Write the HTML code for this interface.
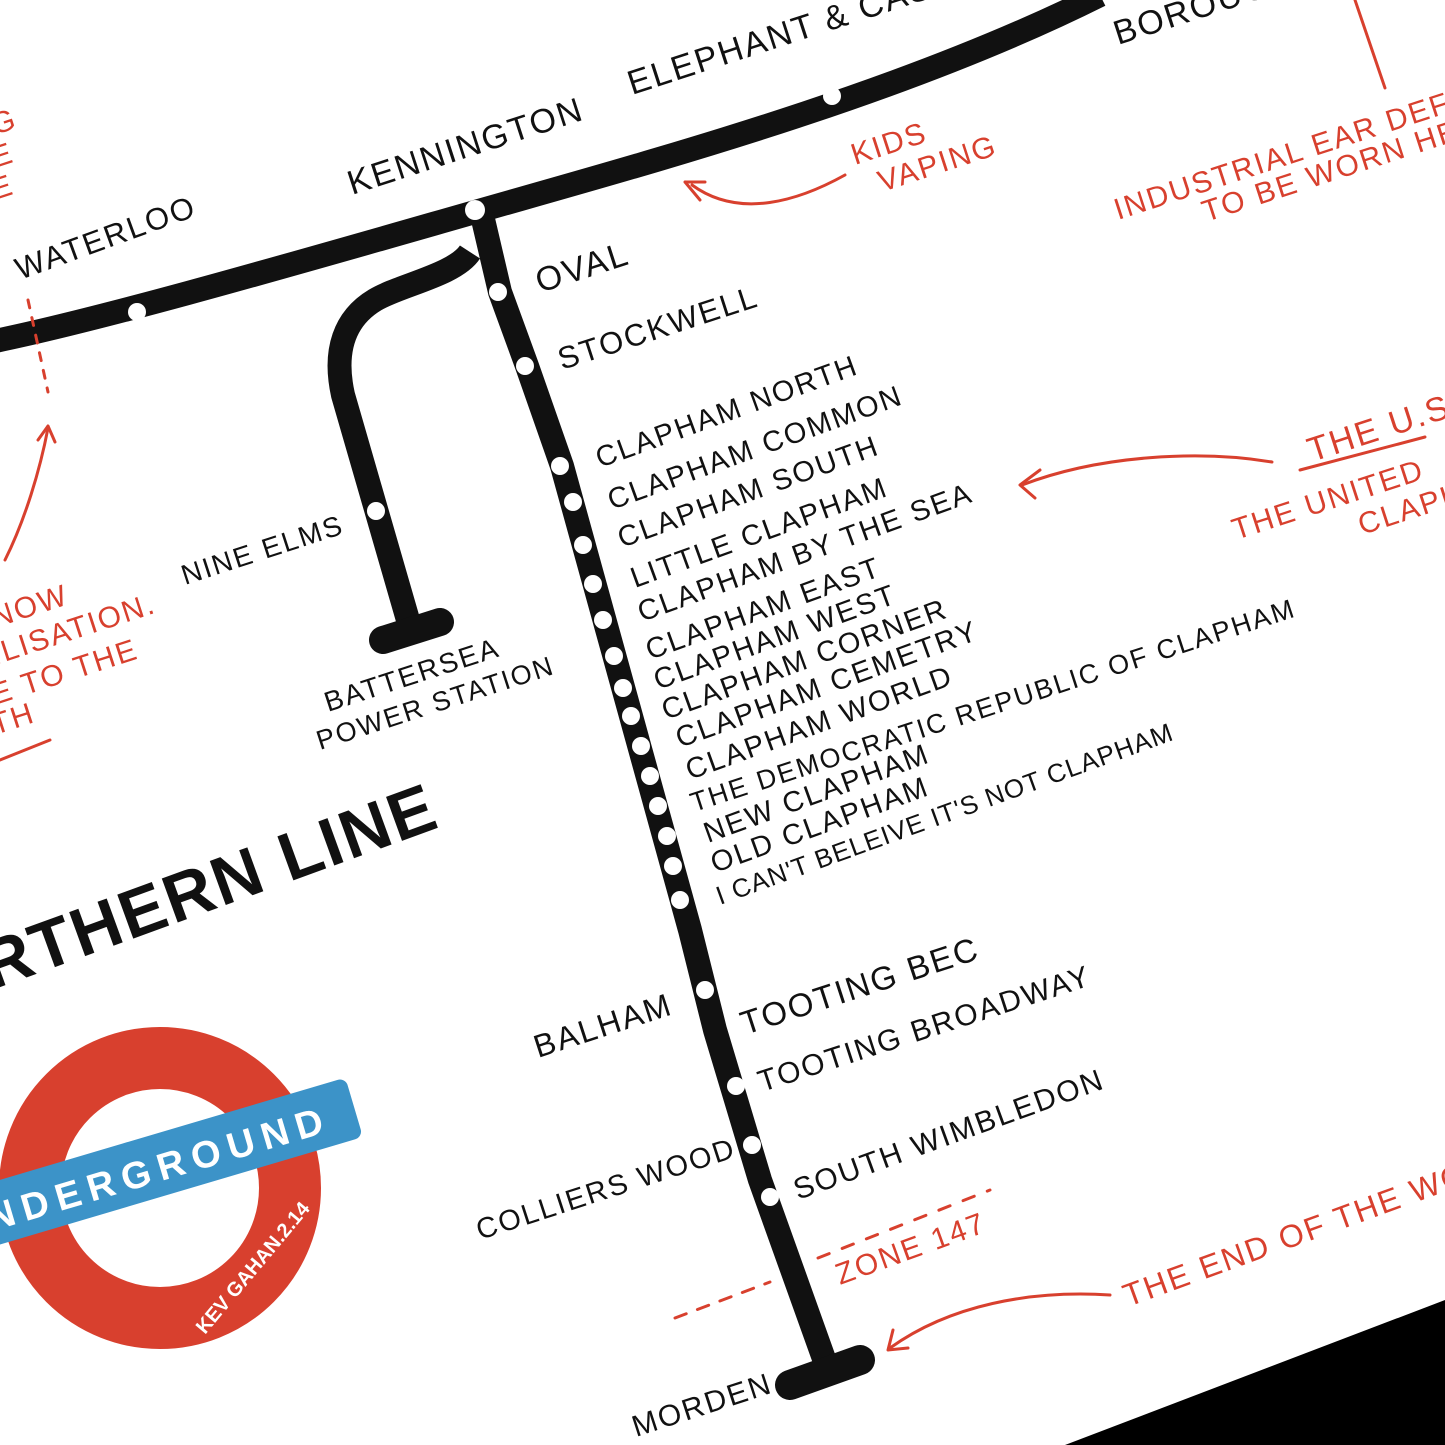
<!DOCTYPE html>
<html><head><meta charset="utf-8"><style>
html,body{margin:0;padding:0;background:#fff}
svg{display:block}
text{font-family:"Liberation Sans",sans-serif;}
.b{fill:#111;font-size:29px;letter-spacing:2px}
.r{fill:#d8402e;font-size:30px;letter-spacing:2px}
</style></head><body>
<svg width="1445" height="1445" viewBox="0 0 1445 1445" xmlns="http://www.w3.org/2000/svg">
<rect width="1445" height="1445" fill="#fff"/>
<path d="M-10,342 C100,320 300,262 475,212 C650,162 900,95 1100,-5" stroke="#111" stroke-width="24" fill="none"/>
<path d="M482,215 L500,292 L527,366 L562,466 C600,600 640,750 690,930 L715,1030 L760,1180 L828,1370" stroke="#111" stroke-width="24" fill="none" stroke-linejoin="round"/>
<path d="M790,1385 L860,1360" stroke="#111" stroke-width="30" stroke-linecap="round"/>
<path d="M470,252 C455,275 400,285 375,300 C345,318 333,350 343,395 L408,620" stroke="#111" stroke-width="24" fill="none"/>
<path d="M383,640 L440,622" stroke="#111" stroke-width="28" stroke-linecap="round"/>
<g fill="#fff">
<circle cx="137" cy="312" r="9"/><circle cx="475" cy="210" r="10"/><circle cx="832" cy="96" r="9"/>
<circle cx="498" cy="292" r="9"/><circle cx="525" cy="366" r="9"/><circle cx="376" cy="511" r="9"/>
<circle cx="560" cy="466" r="9"/><circle cx="573" cy="502" r="9"/><circle cx="583" cy="545" r="9"/>
<circle cx="593" cy="584" r="9"/><circle cx="603" cy="620" r="9"/><circle cx="614" cy="656" r="9"/>
<circle cx="623" cy="688" r="9"/><circle cx="631" cy="716" r="9"/><circle cx="641" cy="746" r="9"/>
<circle cx="650" cy="776" r="9"/><circle cx="658" cy="806" r="9"/><circle cx="667" cy="836" r="9"/>
<circle cx="673" cy="866" r="9"/><circle cx="680" cy="900" r="9"/>
<circle cx="705" cy="990" r="9"/><circle cx="736" cy="1086" r="9"/><circle cx="752" cy="1145" r="9"/><circle cx="770" cy="1197" r="9"/>
</g>
<g class="b">
<text transform="translate(20,280) rotate(-20)" font-size="31">WATERLOO</text>
<text transform="translate(352,195) rotate(-18)" font-size="34">KENNINGTON</text>
<text transform="translate(632,95) rotate(-18)" font-size="34">ELEPHANT &amp; CASTLE</text>
<text transform="translate(1118,45) rotate(-18)" font-size="34">BOROUGH</text>
<text transform="translate(540,293) rotate(-18)" font-size="34">OVAL</text>
<text transform="translate(562,370) rotate(-18)" font-size="31">STOCKWELL</text>
<text transform="translate(185,585) rotate(-18)" font-size="28">NINE ELMS</text>
<text transform="translate(328,712) rotate(-18)" font-size="28">BATTERSEA</text>
<text transform="translate(320,750) rotate(-18)" font-size="27">POWER STATION</text>
<g font-size="29">
<text transform="translate(600,468) rotate(-20)">CLAPHAM NORTH</text>
<text transform="translate(612,510) rotate(-20)">CLAPHAM COMMON</text>
<text transform="translate(622,548) rotate(-20)">CLAPHAM SOUTH</text>
<text transform="translate(635,588) rotate(-20)">LITTLE CLAPHAM</text>
<text transform="translate(642,622) rotate(-20)">CLAPHAM BY THE SEA</text>
<text transform="translate(650,660) rotate(-20)">CLAPHAM EAST</text>
<text transform="translate(658,690) rotate(-20)">CLAPHAM WEST</text>
<text transform="translate(666,720) rotate(-20)">CLAPHAM CORNER</text>
<text transform="translate(680,748) rotate(-20)">CLAPHAM CEMETRY</text>
<text transform="translate(690,780) rotate(-20)">CLAPHAM WORLD</text>
<text transform="translate(694,812) rotate(-18)" font-size="27">THE DEMOCRATIC REPUBLIC OF CLAPHAM</text>
<text transform="translate(708,843) rotate(-20)">NEW CLAPHAM</text>
<text transform="translate(715,873) rotate(-20)">OLD CLAPHAM</text>
<text transform="translate(720,905) rotate(-20)" font-size="26" letter-spacing="1">I CAN'T BELEIVE IT'S NOT CLAPHAM</text>
</g>
<text transform="translate(745,1035) rotate(-18)" font-size="33">TOOTING BEC</text>
<text transform="translate(762,1092) rotate(-18)" font-size="30">TOOTING BROADWAY</text>
<text transform="translate(798,1200) rotate(-20)" font-size="30">SOUTH WIMBLEDON</text>
<text transform="translate(538,1058) rotate(-18)" font-size="32">BALHAM</text>
<text transform="translate(480,1240) rotate(-18)" font-size="29">COLLIERS WOOD</text>
<text transform="translate(636,1437) rotate(-18)" font-size="30">MORDEN</text>
<text transform="translate(-8,990) rotate(-20)" font-size="68" font-weight="bold" letter-spacing="2">RTHERN LINE</text>
</g>
<g class="r">
<text transform="translate(855,165) rotate(-18)">KIDS</text>
<text transform="translate(882,192) rotate(-18)">VAPING</text>
<text transform="translate(1118,220) rotate(-18)">INDUSTRIAL  EAR DEFENDERS</text>
<text transform="translate(1206,222) rotate(-18)">TO BE WORN HERE</text>
<text transform="translate(1312,462) rotate(-18)" font-size="34">THE U.S</text>
<text transform="translate(1236,540) rotate(-18)">THE UNITED</text>
<text transform="translate(1362,535) rotate(-18)">CLAPHAM</text>
<text transform="translate(840,1285) rotate(-20)" font-size="30">ZONE 147</text>
<text transform="translate(1128,1307) rotate(-20)" font-size="32">THE END OF THE WORLD</text>
<text transform="translate(-5,135) rotate(-18)">G</text>
<text transform="translate(-5,168) rotate(-18)">E</text>
<text transform="translate(-5,200) rotate(-18)">E</text>
<text transform="translate(-5,628) rotate(-18)">NOW</text>
<text transform="translate(-5,665) rotate(-18)">ILISATION.</text>
<text transform="translate(-5,705) rotate(-18)">E TO THE</text>
<text transform="translate(-5,735) rotate(-18)">TH</text>
</g>
<g stroke="#d8402e" stroke-width="3" fill="none" stroke-linecap="round">
<path d="M845,175 C800,200 740,220 692,185"/><path d="M685,182 L700,200 M685,182 L705,182"/>
<path d="M1355,0 L1385,88"/>
<path d="M1272,462 C1200,450 1100,455 1022,485"/><path d="M1020,485 L1040,470 M1020,485 L1035,498"/>
<path d="M1110,1295 C1030,1290 950,1305 890,1348"/><path d="M888,1350 L893,1330 M888,1350 L908,1348"/>
<path d="M1300,470 L1425,437"/>
<path d="M0,760 L50,740"/>
<path d="M5,560 C25,520 40,470 48,428"/><path d="M48,426 L38,440 M48,426 L55,442"/>
<path d="M28,300 L48,392" stroke-dasharray="8,10"/>
<path d="M675,1318 L770,1282" stroke-dasharray="12,12"/>
<path d="M818,1258 L990,1190" stroke-dasharray="12,14"/>
</g>
<circle cx="160" cy="1188" r="130" fill="none" stroke="#d8402e" stroke-width="62"/>
<g transform="translate(0,1232) rotate(-16.5)">
<rect x="-30" y="-50" width="405" height="62" rx="8" fill="#3c93c8"/>
<text x="-8" y="-3" fill="#fff" font-size="38" font-weight="bold" letter-spacing="8" style="font-family:'Liberation Sans',sans-serif">NDERGROUND</text>
</g>
<text transform="translate(205,1335) rotate(-50)" fill="#fff" font-size="20" font-weight="bold">KEV GAHAN.2.14</text>
<polygon points="1445,1300 1445,1445 1065,1445" fill="#000"/>
</svg>
</body></html>
